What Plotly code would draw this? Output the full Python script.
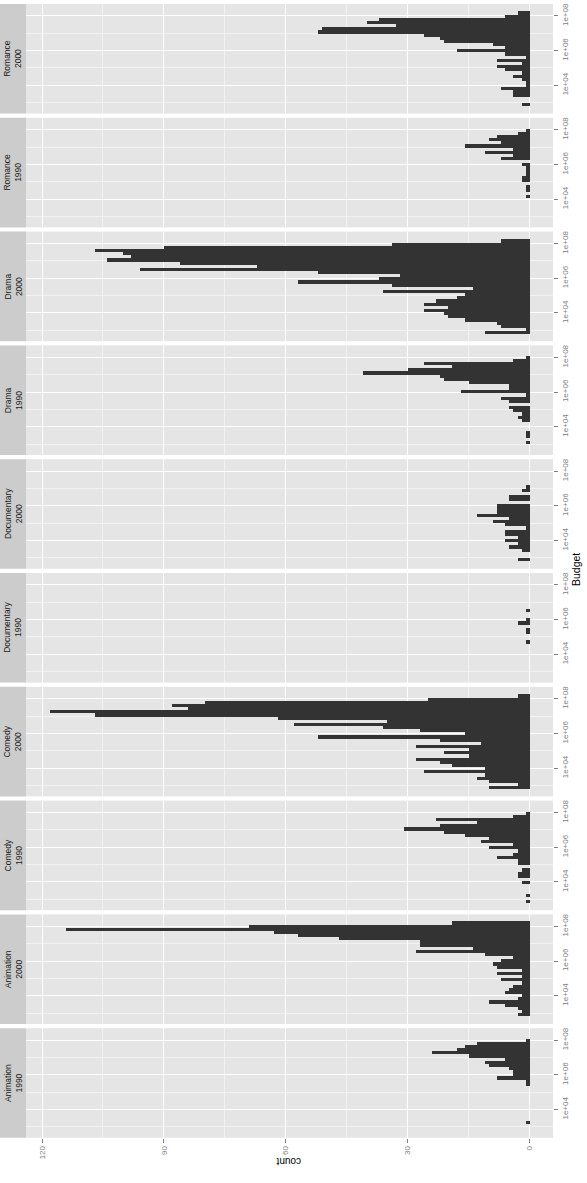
import plotly.graph_objects as go

W, H = 587, 1183

# ---------------- data ----------------
# facet panels, top to bottom
genres = ["Romance", "Romance", "Drama", "Drama", "Documentary", "Documentary",
          "Comedy", "Comedy", "Animation", "Animation"]
decades = ["2000", "1990", "2000", "1990", "2000", "1990", "2000", "1990", "2000", "1990"]

# histogram bins on log10(budget): 30 bins, listed from the highest-budget bin down
bin_top_log10 = 8.26
bin_width_log10 = 0.182
n_bins = 30

# counts per bin (highest budget first)
romance_2000 = [3, 6, 37, 40, 33, 51, 52, 26, 22, 21, 9, 6, 18, 6, 1, 8, 2, 8, 6, 2, 4, 2, 1, 1, 7, 4, 4, 0, 0, 2]
romance_1990 = [0, 1, 3, 8, 10, 7, 16, 4, 11, 4, 7, 0, 2, 1, 1, 1, 2, 2, 0, 1, 1, 0, 1, 0, 0, 0, 0, 0, 0, 0]
drama_2000 = [7, 34, 90, 107, 100, 98, 104, 86, 67, 96, 52, 32, 37, 57, 34, 14, 36, 16, 18, 23, 26, 20, 26, 21, 20, 16, 8, 7, 1, 11]
drama_1990 = [0, 1, 4, 26, 19, 30, 41, 22, 21, 15, 5, 5, 17, 1, 7, 5, 0, 5, 4, 2, 3, 2, 0, 0, 0, 1, 1, 0, 1, 0]
documentary_2000 = [0, 0, 0, 0, 0, 0, 1, 2, 0, 5, 5, 0, 8, 8, 8, 13, 5, 9, 6, 1, 6, 6, 3, 6, 3, 5, 2, 0, 0, 3]
documentary_1990 = [0, 0, 0, 0, 0, 0, 0, 0, 0, 1, 0, 0, 1, 3, 0, 1, 1, 0, 0, 1, 0, 0, 0, 0, 0, 0, 0, 0, 0, 0]
comedy_2000 = [3, 25, 80, 88, 84, 118, 107, 62, 35, 58, 36, 27, 16, 52, 22, 12, 28, 15, 21, 15, 28, 22, 19, 11, 26, 11, 13, 10, 3, 10]
comedy_1990 = [0, 1, 4, 23, 13, 22, 31, 21, 16, 10, 12, 4, 10, 3, 4, 8, 3, 3, 0, 2, 3, 3, 0, 2, 0, 0, 0, 1, 0, 1]
animation_2000 = [19, 69, 114, 63, 57, 47, 27, 27, 14, 28, 11, 4, 7, 9, 8, 2, 8, 2, 7, 2, 4, 5, 6, 2, 3, 10, 6, 3, 2, 3]
animation_1990 = [0, 1, 13, 16, 18, 24, 15, 6, 11, 10, 5, 4, 4, 8, 1, 1, 0, 0, 0, 0, 0, 0, 0, 0, 0, 0, 0, 1, 0, 0]

panel_counts = [romance_2000, romance_1990, drama_2000, drama_1990, documentary_2000,
                documentary_1990, comedy_2000, comedy_1990, animation_2000, animation_1990]

count_ticks = [0, 30, 60, 90, 120]
count_minor = [15, 45, 75, 105]
budget_ticks = [4, 6, 8]
budget_ticklabels = ["1e+04", "1e+06", "1e+08"]
budget_minor = [3, 5, 7]

# ---------------- layout geometry (pixels) ----------------
PANEL_L, PANEL_R = 26, 553
FIRST_TOP, PITCH, PANEL_H = 4, 113.8, 109.6
STRIP_W = 26
COUNT_RANGE = [123.94, -5.73]
BUDGET_RANGE = [2.368, 8.692]

FONT = "Liberation Sans, Arial, sans-serif"
TICK_COL = "#7F7F7F"

bin_centers = [bin_top_log10 - bin_width_log10 * (j + 0.5) for j in range(n_bins)]

fig = go.Figure()
layout = dict(
    template="none",
    width=W, height=H,
    margin=dict(l=0, r=0, t=0, b=0, pad=0, autoexpand=False),
    paper_bgcolor="white",
    plot_bgcolor="#E5E5E5",
    showlegend=False,
    bargap=0,
    hovermode=False,
    font=dict(family=FONT),
)
shapes = []
annotations = []

for i, counts in enumerate(panel_counts):
    n = i + 1
    sfx = "" if n == 1 else str(n)
    top = FIRST_TOP + PITCH * i
    bot = top + PANEL_H
    ydom = [1 - bot / H, 1 - top / H]
    is_bottom = (i == len(panel_counts) - 1)

    xs = [c for c in counts if c > 0]
    ys = [bin_centers[j] for j, c in enumerate(counts) if c > 0]
    fig.add_trace(go.Bar(
        x=xs, y=ys, orientation="h", width=bin_width_log10,
        marker=dict(color="#333333", line=dict(width=0)),
        xaxis="x" + sfx, yaxis="y" + sfx, hoverinfo="skip",
    ))

    layout["xaxis" + sfx] = dict(
        domain=[PANEL_L / W, PANEL_R / W], anchor="y" + sfx, automargin=False,
        range=COUNT_RANGE, autorange=False,
        tickvals=count_ticks, ticktext=[str(v) for v in count_ticks],
        showgrid=True, gridcolor="white", gridwidth=1.1, zeroline=False, showline=False,
        minor=dict(tickvals=count_minor, showgrid=True, gridcolor="#F2F2F2", gridwidth=0.6, ticks=""),
        showticklabels=is_bottom, ticks="outside" if is_bottom else "",
        ticklen=4, tickwidth=1, tickcolor=TICK_COL, tickangle=-90,
        tickfont=dict(size=8, color=TICK_COL, family=FONT),
        showspikes=False, fixedrange=True,
    )
    layout["yaxis" + sfx] = dict(
        domain=ydom, anchor="x" + sfx, side="right", automargin=False,
        range=BUDGET_RANGE, autorange=False,
        tickvals=budget_ticks, ticktext=budget_ticklabels,
        showgrid=True, gridcolor="white", gridwidth=1.1, zeroline=False, showline=False,
        minor=dict(tickvals=budget_minor, showgrid=True, gridcolor="#F2F2F2", gridwidth=0.6, ticks=""),
        ticks="outside", ticklen=4, tickwidth=1, tickcolor=TICK_COL, tickangle=-90,
        tickfont=dict(size=8, color=TICK_COL, family=FONT),
        showspikes=False, fixedrange=True,
    )

    # strip
    shapes.append(dict(type="rect", xref="paper", yref="paper",
                       x0=0, x1=STRIP_W / W, y0=ydom[0], y1=ydom[1],
                       fillcolor="#CCCCCC", line=dict(width=0), layer="below"))
    annotations.append(dict(
        xref="paper", yref="paper", x=(STRIP_W / 2) / W, y=(ydom[0] + ydom[1]) / 2,
        text=f"{genres[i]}<br>{decades[i]}", textangle=-90, showarrow=False,
        xanchor="center", yanchor="middle",
        font=dict(size=8.5, color="#1A1A1A", family=FONT),
    ))

# axis titles
annotations.append(dict(
    xref="paper", yref="paper", x=289 / W, y=1 - 1162 / H, text="count",
    textangle=180, showarrow=False, xanchor="center", yanchor="middle",
    font=dict(size=10, color="black", family=FONT),
))
annotations.append(dict(
    xref="paper", yref="paper", x=576 / W, y=1 - 570 / H, text="Budget",
    textangle=-90, showarrow=False, xanchor="center", yanchor="middle",
    font=dict(size=10.5, color="black", family=FONT),
))

layout["shapes"] = shapes
layout["annotations"] = annotations
fig.update_layout(**layout)
fig.write_html(
    "out.html",
    config={"displayModeBar": False},
    post_script="document.body.style.margin='0';document.body.style.padding='0';"
                "document.body.style.overflow='hidden';",
)
